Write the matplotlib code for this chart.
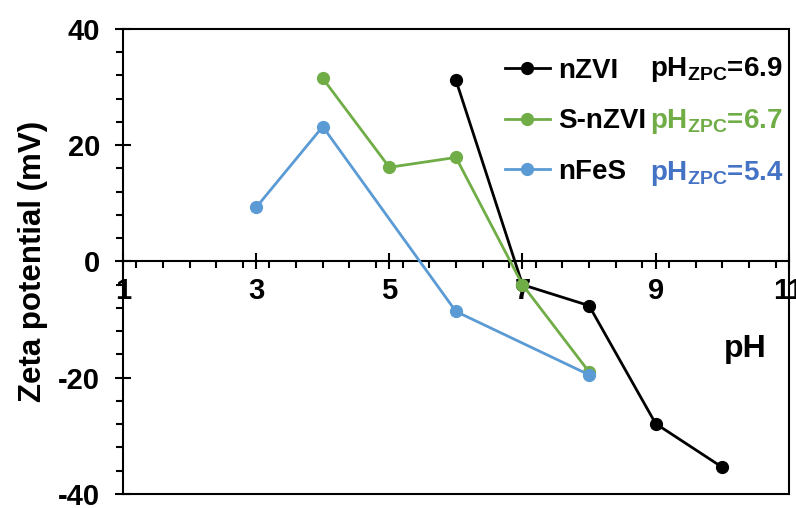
import matplotlib
matplotlib.use("Agg")
import matplotlib.pyplot as plt
from matplotlib.ticker import MultipleLocator

plt.rcParams['font.family'] = ['Liberation Sans', 'DejaVu Sans']
plt.rcParams['font.weight'] = 'bold'
plt.rcParams['mathtext.fontset'] = 'custom'
plt.rcParams['mathtext.rm'] = 'Liberation Sans:bold'
plt.rcParams['mathtext.bf'] = 'Liberation Sans:bold'
plt.rcParams['axes.unicode_minus'] = False

# Data
nzvi_ph = [6, 7, 8, 9, 10]
nzvi_zeta = [31.2, -4.0, -7.6, -27.9, -35.4]
snzvi_ph = [4, 5, 6, 7, 8]
snzvi_zeta = [31.5, 16.2, 17.9, -4.0, -19.0]
nfes_ph = [3, 4, 6, 8]
nfes_zeta = [9.3, 23.2, -8.6, -19.5]
series_names = ['nZVI', 'S-nZVI', 'nFeS']
zpc_labels = ['6.9', '6.7', '5.4']
line_colors = ['#000000', '#70AD47', '#5B9BD5']
zpc_colors = ['#000000', '#70AD47', '#4472C4']
x_ticks = [1, 3, 5, 7, 9, 11]
y_ticks = [-40, -20, 0, 20, 40]

fig = plt.figure(figsize=(7.96, 5.08), dpi=100)
ax = fig.add_axes([0.1545, 0.0276, 0.991 - 0.1545, 0.943 - 0.0276])

data = [(nzvi_ph, nzvi_zeta), (snzvi_ph, snzvi_zeta), (nfes_ph, nfes_zeta)]
handles = []
for (xs, ys), name, c in zip(data, series_names, line_colors):
    h, = ax.plot(xs, ys, '-o', color=c, lw=2.0, ms=8.5, label=name, zorder=3)
    handles.append(h)

ax.set_xlim(1, 11)
ax.set_ylim(-40, 40)

for s in ax.spines.values():
    s.set_linewidth(1.5)
ax.spines['bottom'].set_position(('data', 0))
ax.axhline(-40, color='black', lw=1.5, clip_on=False, zorder=5)

ax.set_xticks(x_ticks)
ax.set_yticks(y_ticks)
ax.xaxis.set_minor_locator(MultipleLocator(0.4))
ax.yaxis.set_minor_locator(MultipleLocator(4))
ax.tick_params(axis='both', which='major', direction='inout', length=11, width=1.5,
               labelsize=21)
ax.tick_params(axis='both', which='minor', direction='out', length=5, width=1.5)
ax.tick_params(axis='x', which='major', pad=6)
ax.tick_params(axis='y', which='major', pad=11)
for lab in ax.get_xticklabels() + ax.get_yticklabels():
    lab.set_fontweight('bold')

ax.set_ylabel('Zeta potential (mV)', fontsize=22.5, fontweight='bold', labelpad=7)
ax.text(10.35, -15, 'pH', fontsize=23, fontweight='bold', ha='center', va='center')

leg = ax.legend(handles=handles, loc='center left', bbox_to_anchor=(0.574, 0.801),
                frameon=False, fontsize=20, handlelength=1.6, handletextpad=0.3,
                labelspacing=0.88, borderaxespad=0, borderpad=0)
for t in leg.get_texts():
    t.set_fontweight('bold')

zpc_y = [0.912, 0.802, 0.690]
for lab, c, yy in zip(zpc_labels, zpc_colors, zpc_y):
    ax.text(0.792, yy, r'pH$_{\mathbf{ZPC}}$=' + lab, transform=ax.transAxes,
            fontsize=20, fontweight='bold', color=c, ha='left', va='center')

fig.savefig('out.png', dpi=100)
